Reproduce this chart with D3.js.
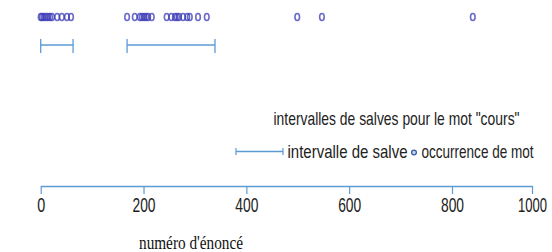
<!DOCTYPE html>
<html>
<head>
<meta charset="utf-8">
<script src="https://cdn.jsdelivr.net/npm/d3@7"></script>
<style>
  html, body { margin: 0; padding: 0; background: #fff; }
  svg { display: block; }
</style>
</head>
<body>
<svg id="chart" width="552" height="252"></svg>
<script>
// ---- data ----
const occurrences = [0, 2.5, 6, 10, 14, 18, 22, 32, 41, 51, 59,
  168, 183, 193, 197, 201, 205, 209, 216, 245, 254, 261, 265, 269, 277, 285, 290, 306, 323,
  499, 547, 852];
const intervalStarts = [0, 168];
const intervalEnds = [63, 339];
const tickValues = [0, 200, 400, 600, 800, 1000];
const tickLabels = ["0", "200", "400", "600", "800", "1000"];
const chartTitle = 'intervalles de salves pour le mot "cours"';
const legendLabels = ["intervalle de salve", "occurrence de mot"];
const axisTitle = "numéro d'énoncé";

// ---- drawing ----
const svg = d3.select("#chart");
const x = d3.scaleLinear().domain([0, 800, 1000]).range([40.7, 452, 532]);
const blue = "#5b9bd5";
const sans = "'Liberation Sans Narrow', 'Liberation Sans', sans-serif";

// intervals
const intervals = intervalStarts.map((s, i) => ({ s, e: intervalEnds[i] }));
const gi = svg.append("g");
gi.selectAll("line.h").data(intervals).join("line")
  .attr("x1", d => x(d.s)).attr("x2", d => x(d.e))
  .attr("y1", 45).attr("y2", 45)
  .attr("stroke", blue).attr("stroke-width", 1.5);
gi.selectAll("line.cs").data(intervals).join("line")
  .attr("x1", d => x(d.s)).attr("x2", d => x(d.s))
  .attr("y1", 39).attr("y2", 53)
  .attr("stroke", blue).attr("stroke-width", 1.3);
gi.selectAll("line.ce").data(intervals).join("line")
  .attr("x1", d => x(d.e)).attr("x2", d => x(d.e))
  .attr("y1", 39).attr("y2", 53)
  .attr("stroke", blue).attr("stroke-width", 1.3);

// occurrences
svg.append("g").selectAll("ellipse").data(occurrences).join("ellipse")
  .attr("cx", d => x(d)).attr("cy", 17)
  .attr("rx", 2.3).attr("ry", 3.5)
  .attr("fill", "none")
  .attr("stroke", "#3a3ab5").attr("stroke-opacity", 0.75)
  .attr("stroke-width", 1.6);

// axis
const axis = d3.axisBottom(x)
  .tickValues(tickValues)
  .tickFormat((d, i) => tickLabels[i])
  .tickSizeInner(8).tickSizeOuter(0);
const ga = svg.append("g").attr("transform", "translate(0,186)").call(axis);
ga.select(".domain").attr("stroke", blue).attr("stroke-width", 1.5);
ga.selectAll(".tick line").attr("stroke", blue).attr("stroke-width", 1.2);
ga.selectAll(".tick text")
  .attr("y", 25.5).attr("dy", 0)
  .attr("fill", "#222")
  .style("font-family", sans)
  .style("font-size", "20px")
  .attr("lengthAdjust", "spacingAndGlyphs")
  .attr("textLength", (d, i) => [8, 23, 23, 23, 23, 29][i]);

// axis title
svg.append("text")
  .attr("x", 191).attr("y", 249)
  .attr("text-anchor", "middle")
  .style("font-family", "'Liberation Serif', serif")
  .style("font-size", "18px")
  .attr("fill", "#111")
  .attr("lengthAdjust", "spacingAndGlyphs")
  .attr("textLength", 104)
  .text(axisTitle);

// chart title
svg.append("text")
  .attr("x", 273.5).attr("y", 125)
  .style("font-family", sans)
  .style("font-size", "19px")
  .attr("fill", "#222")
  .attr("lengthAdjust", "spacingAndGlyphs")
  .attr("textLength", 246)
  .text(chartTitle);

// legend
const lg = svg.append("g");
lg.append("line").attr("x1", 236).attr("x2", 283).attr("y1", 151.5).attr("y2", 151.5)
  .attr("stroke", blue).attr("stroke-width", 1.5);
lg.append("line").attr("x1", 236).attr("x2", 236).attr("y1", 148).attr("y2", 155)
  .attr("stroke", blue).attr("stroke-width", 1.2);
lg.append("line").attr("x1", 283).attr("x2", 283).attr("y1", 148).attr("y2", 155)
  .attr("stroke", blue).attr("stroke-width", 1.2);
lg.append("text").attr("x", 287.5).attr("y", 158)
  .style("font-family", sans)
  .style("font-size", "19px").attr("fill", "#222")
  .attr("lengthAdjust", "spacingAndGlyphs").attr("textLength", 120)
  .text(legendLabels[0]);
lg.append("circle").attr("cx", 414).attr("cy", 152.5).attr("r", 2.4)
  .attr("fill", "#c5d3ee").attr("stroke", "#3f5f9f").attr("stroke-width", 1.3);
lg.append("text").attr("x", 421.5).attr("y", 158)
  .style("font-family", sans)
  .style("font-size", "19px").attr("fill", "#222")
  .attr("lengthAdjust", "spacingAndGlyphs").attr("textLength", 112)
  .text(legendLabels[1]);
</script>
</body>
</html>
